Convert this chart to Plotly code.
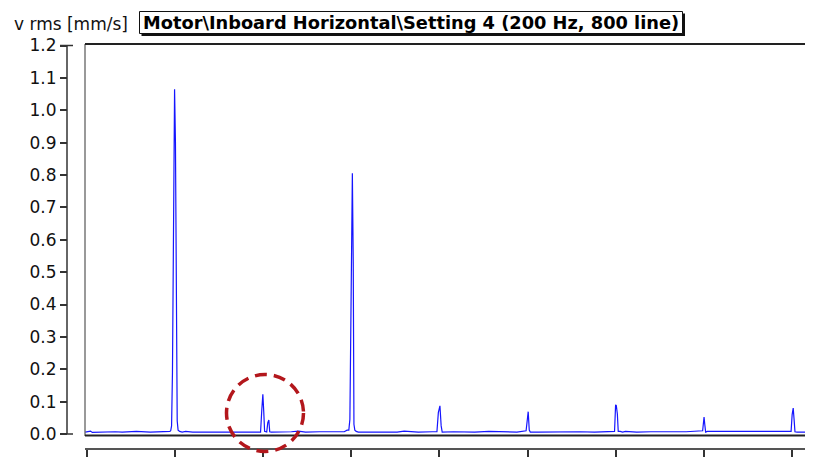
import plotly.graph_objects as go

# ---- data ----
freq_hz = [
    -0.5, 0, 1, 1.5, 4, 8, 10, 14, 18, 22, 23.5,
    23.75, 24.0, 24.25, 24.5, 24.85, 25.1, 25.35, 25.6, 25.85, 26.3, 27, 28,
    30, 34, 38, 42, 46, 49.25,
    49.6, 49.9, 50.15, 50.4, 51.0, 51.3, 51.6, 51.85, 52.3,
    55, 58, 60, 62, 66, 70, 73, 73.8,
    74.3, 74.6, 74.85, 75.1, 75.3, 75.55, 75.75, 76.0, 76.4, 77,
    80, 84, 88, 90, 94, 98, 99.3,
    99.7, 100.15, 100.5, 100.8,
    104, 110, 114, 118, 122, 124.6,
    124.85, 125.2, 125.5, 125.8,
    128, 132, 136, 140, 144, 148, 149.7,
    150.0, 150.2, 150.5, 150.75, 151.3, 152, 152.8,
    156, 160, 165, 170, 174.7,
    174.9, 175.1, 175.3, 175.55, 176, 178, 180,
    184, 188, 192, 196, 199.8,
    200.1, 200.4, 200.65, 200.9, 201.5, 206.5,
]
vrms = [
    0.006, 0.007, 0.009, 0.005, 0.006, 0.007, 0.006, 0.008, 0.006, 0.007, 0.008,
    0.010, 0.025, 0.19, 0.71, 1.065, 0.90, 0.41, 0.04, 0.012, 0.008, 0.006, 0.008,
    0.006, 0.007, 0.006, 0.006, 0.007, 0.006,
    0.074, 0.123, 0.07, 0.008, 0.006, 0.035, 0.043, 0.007, 0.006,
    0.006, 0.007, 0.009, 0.006, 0.007, 0.006, 0.007, 0.012,
    0.012, 0.045, 0.33, 0.70, 0.805, 0.53, 0.03, 0.012, 0.008, 0.006,
    0.006, 0.007, 0.006, 0.009, 0.006, 0.007, 0.007,
    0.066, 0.087, 0.025, 0.006,
    0.007, 0.006, 0.008, 0.006, 0.006, 0.010,
    0.046, 0.069, 0.012, 0.006,
    0.006, 0.007, 0.006, 0.007, 0.006, 0.006, 0.008,
    0.09, 0.088, 0.062, 0.008, 0.008, 0.006, 0.008,
    0.006, 0.007, 0.006, 0.007, 0.010,
    0.04, 0.052, 0.03, 0.006, 0.008, 0.008, 0.006,
    0.007, 0.006, 0.007, 0.006, 0.008,
    0.06, 0.08, 0.045, 0.007, 0.006, 0.006,
]
y_tick_vals = [0.0, 0.1, 0.2, 0.3, 0.4, 0.5, 0.6, 0.7, 0.8, 0.9, 1.0, 1.1, 1.2]
y_tick_text = ["0.0", "0.1", "0.2", "0.3", "0.4", "0.5", "0.6", "0.7", "0.8", "0.9", "1.0", "1.1", "1.2"]
x_tick_vals = [0, 25, 50, 75, 100, 125, 150, 175, 200]
unit_label = "v rms [mm/s]"
title_text = "Motor\\Inboard Horizontal\\Setting 4 (200 Hz, 800 line)"

# ---- layout helpers (target pixel -> paper); page body has an 8px margin ----
OFF = 8
W, H = 813 - OFF, 457 - OFF
ML, MT = 60 - OFF, 44 - OFF
PW, PH = W - ML, H - MT


def px(p):
    return (p - OFF - ML) / PW


def py(p):
    return (H - (p - OFF)) / PH


FONT = "DejaVu Sans"

fig = go.Figure()
fig.add_trace(go.Scatter(
    x=freq_hz, y=vrms, mode="lines",
    line=dict(color="#1515ff", width=1.2),
    hoverinfo="skip", showlegend=False,
))

shapes = []
# y-axis line with caps
shapes.append(dict(type="line", xref="paper", yref="y", x0=px(67), x1=px(67), y0=0, y1=1.2,
                   line=dict(color="#333333", width=1.5)))
for v in (0.0, 1.2):
    shapes.append(dict(type="line", xref="paper", yref="y", x0=px(60), x1=px(73), y0=v, y1=v,
                       line=dict(color="#333333", width=1.5)))
# plot frame (left, top, bottom)
shapes.append(dict(type="line", xref="paper", yref="paper", x0=px(85), x1=px(85), y0=py(436), y1=py(44),
                   line=dict(color="#555555", width=1.2)))
shapes.append(dict(type="line", xref="paper", yref="paper", x0=px(85), x1=px(813), y0=py(44), y1=py(44),
                   line=dict(color="#222222", width=1.8)))
shapes.append(dict(type="line", xref="paper", yref="paper", x0=px(85), x1=px(813), y0=py(435.5), y1=py(435.5),
                   line=dict(color="#222222", width=1.8)))
# title box with shadow
shapes.append(dict(type="rect", xref="paper", yref="paper", x0=px(141.5), x1=px(685), y0=py(36), y1=py(13.5),
                   fillcolor="#111111", line=dict(width=0)))
shapes.append(dict(type="rect", xref="paper", yref="paper", x0=px(139.5), x1=px(682.5), y0=py(33.5), y1=py(11.5),
                   fillcolor="white", line=dict(color="#111111", width=1)))
# red dashed circle
shapes.append(dict(type="circle", xref="paper", yref="paper", x0=px(226.5), x1=px(303.5), y0=py(451.5), y1=py(374.5),
                   line=dict(color="#b3171c", width=3.5, dash="12px,7px")))

fig.update_layout(
    width=W, height=H,
    margin=dict(l=ML, r=0, t=MT, b=0, autoexpand=False),
    paper_bgcolor="white", plot_bgcolor="white",
    shapes=shapes,
    xaxis=dict(
        domain=[px(85), 1], range=[(85 - 87) / 3.524, (813 - 87) / 3.524],
        anchor="free", position=py(449),
        showline=True, linecolor="#555555", linewidth=1.5,
        ticks="outside", ticklen=9, tickwidth=1.5, tickcolor="#333333",
        tickvals=x_tick_vals, showticklabels=False,
        showgrid=False, zeroline=False, fixedrange=True, automargin=False,
    ),
    yaxis=dict(
        domain=[py(436), 1], range=[-2 / 323.7, 1.2 + 1.5 / 323.7],
        anchor="free", position=px(67),
        showline=False,
        ticks="outside", ticklen=7, tickwidth=1.5, tickcolor="#333333",
        tickvals=y_tick_vals, ticktext=y_tick_text,
        tickfont=dict(family=FONT, size=17, color="#111111"),
        showgrid=False, zeroline=False, fixedrange=True, automargin=False,
    ),
    annotations=[
        dict(text=unit_label, xref="paper", yref="paper", x=px(12), y=py(23.5),
             xanchor="left", yanchor="middle", showarrow=False,
             font=dict(family=FONT, size=17, color="#111111")),
        dict(text="<b>" + title_text + "</b>", xref="paper", yref="paper", x=px(411), y=py(22.5),
             xanchor="center", yanchor="middle", showarrow=False,
             font=dict(family=FONT, size=17.8, color="#000000")),
    ],
)

fig.write_html("out.html")
